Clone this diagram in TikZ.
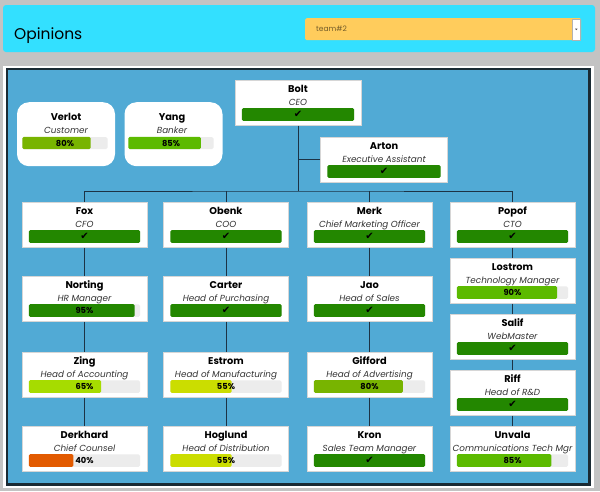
\documentclass[tikz,border=0pt]{standalone}
\usepackage{fontspec}
\setmainfont{Poppins}
\newfontfamily\symfont{DejaVu Sans}
\usetikzlibrary{calc}
\definecolor{pagegray}{HTML}{C3C3C3}
\definecolor{topcyan}{HTML}{33E0FF}
\definecolor{dropor}{HTML}{FFCC5C}
\definecolor{panelblue}{HTML}{51AAD5}
\definecolor{framedark}{HTML}{1A2A33}
\definecolor{linecol}{HTML}{1C3345}
\definecolor{cardline}{HTML}{D6D6D6}
\definecolor{barbgc}{HTML}{ECECEC}
\definecolor{gdark}{HTML}{238700}
\definecolor{gbright}{HTML}{5CBA00}
\definecolor{golive}{HTML}{78B400}
\definecolor{gyellow}{HTML}{A6DC00}
\definecolor{glemon}{HTML}{CBDD00}
\definecolor{borange}{HTML}{E25A00}
\definecolor{rolecol}{HTML}{333333}
\tikzset{
  cardbox/.style={draw=cardline, fill=white, line width=0.6pt, minimum height=45, inner sep=0, anchor=north},
  roundcard/.style={fill=white, rounded corners=12, inner sep=0, minimum width=98, minimum height=64, anchor=north},
  nametext/.style={font=\fontsize{9.8}{11}\selectfont\bfseries, inner sep=0, anchor=base},
  roletext/.style={font=\fontsize{8.8}{10}\selectfont\itshape, inner sep=0, anchor=base, text=rolecol},
  barbgst/.style={fill=barbgc, rounded corners=1.5, minimum height=12.5, inner sep=0},
  pcttext/.style={font=\fontsize{8.3}{9}\selectfont\bfseries, inner sep=0},
  link/.style={draw=linecol, line width=1pt},
}
% #1 id, #2 cx, #3 top, #4 width, #5 name, #6 role, #7 fraction, #8 colour, #9 label
\newcommand\orgcard[9]{%
  \node[cardbox, minimum width=#4] (#1) at (#2,#3) {};
  \node[nametext] (#1-name) at ([yshift=-12.5pt]#1.north) {#5};
  \node[roletext] (#1-role) at ([yshift=-25pt]#1.north) {#6};
  \node[barbgst, minimum width=#4-14] (#1-bar) at ([yshift=-34.5pt]#1.north) {};
  \fill[#8, rounded corners=1.5] (#1-bar.north west) rectangle ($(#1-bar.south west)!#7!(#1-bar.south east)$);
  \node[pcttext] (#1-pct) at (#1-bar) {#9};
}
\newcommand\chk{{\symfont\bfseries\fontsize{10}{10}\selectfont ✔}}
\begin{document}
\begin{tikzpicture}[x=1pt,y=-1pt]
\useasboundingbox (0,0) rectangle (600,491);
\fill[pagegray] (0,0) rectangle (600,491);
% top bar
\fill[topcyan, rounded corners=3] (3,5) rectangle (595,52);
\node[font=\fontsize{15.5}{17}\selectfont, anchor=base west, inner sep=0] (title) at (14,39) {Opinions};
\node[fill=dropor, rounded corners=1.5, minimum width=276, minimum height=22, inner sep=0, anchor=north west] (drop) at (305,18) {};
\node[font=\fontsize{7.5}{9}\selectfont, text=black!55!dropor, anchor=west, inner sep=0] (droptext) at (316,29) {team\#2};
\node[fill=white, draw=black!30, line width=0.4pt, minimum width=8, minimum height=21, inner sep=0, anchor=north east] (dropbtn) at (580.5,18.5) {};
\fill[black!70] ([xshift=-1.2pt,yshift=0.5pt]dropbtn.center) -- ([xshift=1.2pt,yshift=0.5pt]dropbtn.center) -- ([yshift=-1pt]dropbtn.center) -- cycle;
% panel
\fill[white] (3,65.5) rectangle (594,488);
\fill[framedark] (5.5,68) rectangle (591,486);
\fill[panelblue] (7.5,70) rectangle (588,483);
% top-level cards
\orgcard{Bolt}{298}{80}{126}{Bolt}{CEO}{1}{gdark}{\chk}
\orgcard{Arton}{384}{137}{127}{Arton}{Executive Assistant}{1}{gdark}{\chk}
% opinion cards
\node[roundcard] (Verlot) at (66,102) {};
\node[nametext] (Verlot-name) at (66,120.5) {Verlot};
\node[roletext] (Verlot-role) at (66,133.5) {Customer};
\node[barbgst, minimum width=85, minimum height=12] (Verlot-bar) at (65,143) {};
\fill[golive, rounded corners=1.5] (Verlot-bar.north west) rectangle ($(Verlot-bar.south west)!0.8!(Verlot-bar.south east)$);
\node[pcttext] (Verlot-pct) at (Verlot-bar) {80\%};
\node[roundcard] (Yang) at (173.5,102) {};
\node[nametext] (Yang-name) at (172,120.5) {Yang};
\node[roletext] (Yang-role) at (172,133.5) {Banker};
\node[barbgst, minimum width=85, minimum height=12] (Yang-bar) at (171,143) {};
\fill[gbright, rounded corners=1.5] (Yang-bar.north west) rectangle ($(Yang-bar.south west)!0.85!(Yang-bar.south east)$);
\node[pcttext] (Yang-pct) at (Yang-bar) {85\%};
% column 1
\orgcard{Fox}{84.5}{202}{125}{Fox}{CFO}{1}{gdark}{\chk}
\orgcard{Norting}{84.5}{276}{125}{Norting}{HR Manager}{0.95}{gdark}{95\%}
\orgcard{Zing}{84.5}{352}{125}{Zing}{Head of Accounting}{0.65}{gyellow}{65\%}
\orgcard{Derkhard}{84.5}{426}{125}{Derkhard}{Chief Counsel}{0.4}{borange}{40\%}
% column 2
\orgcard{Obenk}{226}{202}{125}{Obenk}{COO}{1}{gdark}{\chk}
\orgcard{Carter}{226}{276}{125}{Carter}{Head of Purchasing}{1}{gdark}{\chk}
\orgcard{Estrom}{226}{352}{125}{Estrom}{Head of Manufacturing}{0.55}{glemon}{55\%}
\orgcard{Hoglund}{226}{426}{125}{Hoglund}{Head of Distribution}{0.55}{glemon}{55\%}
% column 3
\orgcard{Merk}{369.5}{202}{125}{Merk}{Chief Marketing Officer}{1}{gdark}{\chk}
\orgcard{Jao}{369.5}{276}{125}{Jao}{Head of Sales}{1}{gdark}{\chk}
\orgcard{Gifford}{369.5}{352}{125}{Gifford}{Head of Advertising}{0.8}{golive}{80\%}
\orgcard{Kron}{369.5}{426}{125}{Kron}{Sales Team Manager}{1}{gdark}{\chk}
% column 4
\orgcard{Popof}{512.5}{202}{125}{Popof}{CTO}{1}{gdark}{\chk}
\orgcard{Lostrom}{512.5}{258}{125}{Lostrom}{Technology Manager}{0.9}{gbright}{90\%}
\orgcard{Salif}{512.5}{314}{125}{Salif}{WebMaster}{1}{gdark}{\chk}
\orgcard{Riff}{512.5}{370}{125}{Riff}{Head of R\&D}{1}{gdark}{\chk}
\orgcard{Unvala}{512.5}{426}{125}{Unvala}{Communications Tech Mgr}{0.85}{gbright}{85\%}
% connectors
\coordinate (bus) at (298,191);
\draw[link] (Bolt.south) -- (bus);
\draw[link] (Arton.west) -- (Arton.west -| Bolt.south);
\draw[link] (Fox.north) |- (bus) -| (Popof.north);
\draw[link] (Obenk.north) -- (Obenk.north |- bus);
\draw[link] (Merk.north) -- (Merk.north |- bus);
\draw[link] (Fox) -- (Norting);
\draw[link] (Norting) -- (Zing);
\draw[link] (Zing) -- (Derkhard);
\draw[link] (Obenk) -- (Carter);
\draw[link] (Carter) -- (Estrom);
\draw[link] (Estrom) -- (Hoglund);
\draw[link] (Merk) -- (Jao);
\draw[link] (Jao) -- (Gifford);
\draw[link] (Gifford) -- (Kron);
\draw[link] (Popof) -- (Lostrom);
\draw[link] (Lostrom) -- (Salif);
\draw[link] (Salif) -- (Riff);
\draw[link] (Riff) -- (Unvala);
\end{tikzpicture}
\end{document}
